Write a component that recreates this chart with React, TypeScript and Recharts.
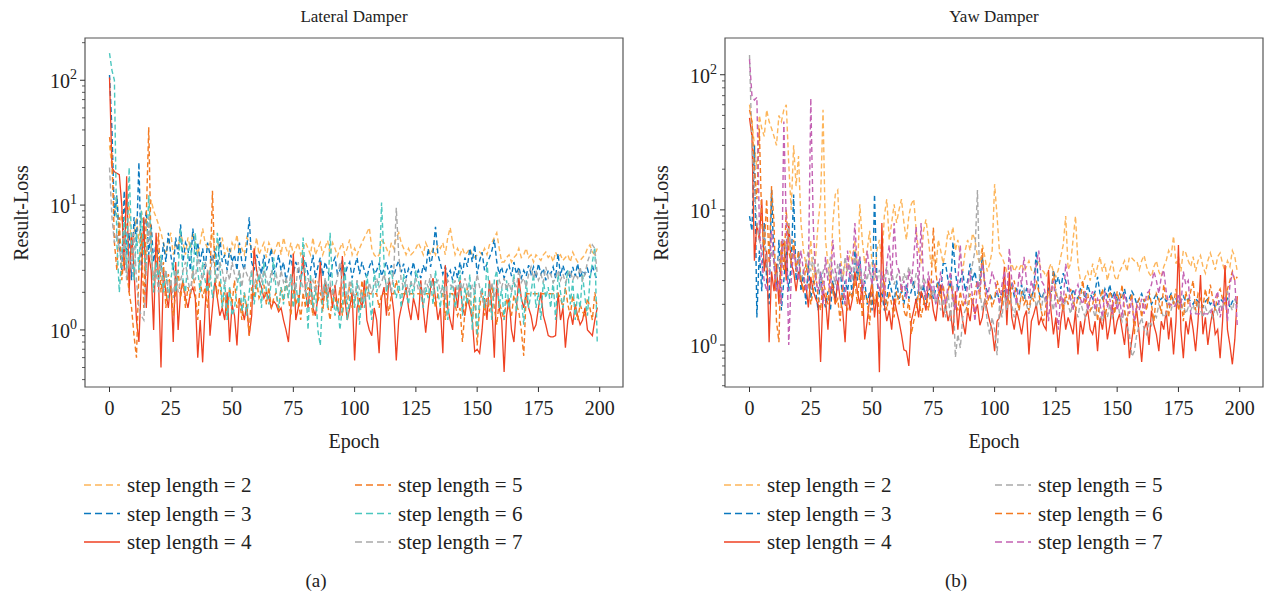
import React from 'react';
import { LineChart, Line, XAxis, YAxis, ReferenceArea } from 'recharts';

const FONT = "'Liberation Serif', 'DejaVu Serif', serif";

const epochs = Array.from({ length: 200 }, (_, i) => i);
const xTicks = [0, 25, 50, 75, 100, 125, 150, 175, 200];

// Lateral Damper
const lateralStep2 = [
  30, 20, 8, 12, 6, 9, 5, 7, 10, 4, 6, 8, 5, 9, 7, 4, 6, 11, 9, 8,
  7, 6, 5, 4, 5, 6, 4, 5, 4.5, 6, 5, 4, 5.5, 4.5, 6, 5, 4, 5, 6.5, 5,
  4.5, 5, 6, 4, 5, 4.5, 5.5, 4, 4.5, 3.8, 5, 4.5, 5.8, 4, 4.5, 4, 5.5, 5, 4.5, 4,
  5.5, 4, 4.5, 5, 3.8, 5, 4.5, 4, 4.6, 5.2, 4, 5.5, 4.5, 4, 5, 4, 4.5, 5, 4, 4.5,
  5, 4.5, 4, 5.5, 4, 4.5, 5, 4, 4.6, 5.2, 4, 5, 4.5, 3.9, 4.5, 5, 4, 4.5, 5.3, 4,
  4.5, 4, 4.5, 5, 5.5, 6, 6.6, 4.5, 4, 3.8, 4, 5.2, 5, 4.5, 4, 5, 4.5, 5.5, 6, 5,
  4.5, 4, 4.5, 4, 4.2, 4.5, 5, 4.5, 4, 5, 4.5, 4, 4.5, 4, 4.8, 4.5, 5, 4, 5.5, 6.6,
  5, 4, 4.5, 4, 4.5, 4, 4.2, 4.5, 4, 3.8, 4, 4.2, 4, 4.5, 4, 4.8, 5, 5.5, 6, 4.5,
  3.5, 3.5, 3.8, 4, 3.5, 3.8, 4, 4.5, 3.8, 4, 4.5, 3.8, 4, 3.5, 4, 3.8, 3.6, 4, 4.2, 3.8,
  4, 3.5, 4.2, 3.8, 4, 3.6, 3.8, 4, 3.5, 4.2, 3.8, 3.5, 3.6, 3.8, 4, 4.5, 4.8, 4.2, 4, 4.5,
];
const lateralStep3 = [
  110, 40, 8, 12, 5, 3, 13, 4, 6, 2.5, 8, 5, 22, 3, 6, 9, 4, 7, 3.5, 5,
  4, 3, 5, 3.5, 6, 4, 3, 5.5, 4, 7, 3.5, 5, 4.5, 3, 6.5, 4, 5, 3.5, 4.5, 3,
  5, 4, 3.5, 4.5, 3, 5.5, 3.5, 4, 3, 4.5, 3.5, 4, 3, 5, 3.5, 3, 4.5, 8, 3.5, 3,
  4, 3.5, 2.8, 4, 3, 3.5, 4.5, 2.8, 3.2, 4, 3, 3.5, 2.5, 3, 4, 2.8, 3.5, 3, 2.5, 3.2,
  3.5, 2.8, 3, 4, 2.6, 3.2, 3.8, 2.7, 3.5, 3, 2.6, 3.4, 3.8, 2.8, 3, 3.6, 2.7, 3.2, 3.5, 2.6,
  3.2, 3.8, 2.8, 3.5, 3, 2.6, 3.2, 3.6, 2.8, 3, 3.4, 2.7, 3.1, 3.5, 2.8, 3.3, 2.7, 3.2, 3.6, 2.9,
  3.4, 2.6, 3.1, 2.8, 3.5, 2.7, 3, 2.6, 3.3, 2.9, 4.5, 3.2, 4.2, 6.7, 4, 3.4, 2.8, 3.2, 2.7, 3,
  2.5, 3.2, 2.6, 3.5, 2.8, 3.8, 3.2, 4.5, 3.5, 4.8, 2.8, 3.6, 4.2, 3, 3.4, 3.8, 4.3, 5.3, 3.5, 2.8,
  3.2, 2.6, 3, 3.3, 2.7, 3.5, 2.8, 3.2, 2.6, 3, 2.7, 3.3, 2.8, 3.2, 2.6, 3.4, 2.8, 3.1, 2.5, 3,
  2.8, 3.2, 2.6, 4.1, 2.7, 3.3, 2.8, 3, 2.6, 3.2, 2.7, 3.4, 2.6, 3, 2.8, 3.1, 2.6, 3.3, 2.8, 2.5,
];
const lateralStep4 = [
  105, 20, 18.5, 18, 17.5, 10, 3, 17, 2, 6, 3, 1.2, 0.8, 2.5, 8, 1.5, 4, 3, 1, 6,
  2.5, 0.5, 3, 2, 1.5, 2.5, 0.8, 3.5, 1, 2, 2.5, 1.8, 1.5, 2, 2.2, 1.8, 0.6, 1.2, 0.55, 1.5,
  3, 0.9, 1.5, 2.5, 1.8, 1.3, 1.5, 1.2, 2, 0.8, 1.6, 1.3, 0.75, 1.8, 1.5, 1.2, 1.6, 0.9, 1.3, 4.5,
  3, 2.5, 2.2, 1.8, 2, 1.8, 1.5, 1.7, 1.6, 1.4, 1.5, 1.2, 1, 0.8, 1.5, 4.1, 1.2, 1.5, 2.5, 4,
  2, 1.5, 2.5, 1.5, 1.3, 1.8, 3.5, 1.6, 2.5, 1.8, 2.2, 1.5, 2.3, 1.5, 1.3, 3.9, 1.8, 1.2, 1.5, 2,
  0.57, 1.5, 1.8, 1.5, 2.5, 1.2, 1, 0.9, 1.5, 1.2, 0.65, 1.8, 2.2, 1.3, 2.6, 2, 1.4, 0.57, 1.2, 1.5,
  1.8, 2.2, 1.5, 1.2, 1.8, 1.5, 1.2, 2.5, 1.5, 0.95, 1.5, 2.2, 2.6, 1.8, 1.2, 1.5, 0.65, 3.3, 1.5, 1.2,
  1, 2.2, 1.5, 2.5, 1.5, 1.3, 1.8, 1.5, 1.2, 0.67, 0.7, 0.65, 1, 1.8, 1.2, 2.5, 1.5, 0.6, 2.5, 1.5,
  1.2, 0.46, 1.3, 1.8, 1, 0.8, 1.5, 2.6, 1.8, 1.5, 2, 1.5, 1.3, 1, 1.1, 1.5, 2, 1.3, 1.1, 0.9,
  0.88, 0.88, 0.9, 2, 1.2, 1.5, 0.72, 1.2, 1.4, 1.1, 1.6, 1.3, 1.1, 1.2, 1.5, 1, 0.95, 0.9, 1.2, 1.5,
];
const lateralStep5 = [
  35, 25, 5, 3, 8, 2.5, 4, 3, 2, 1.5, 0.9, 0.6, 3, 6, 1.5, 8, 42, 4, 2.5, 3,
  6, 2, 3.5, 1.5, 2.8, 2.2, 1.3, 2, 3, 1.8, 2.5, 1.5, 2.2, 1.8, 3, 2, 1.2, 2.5, 1.8, 2.2,
  1.5, 2.5, 13, 3, 1.8, 2.5, 1.5, 2, 1.3, 2.2, 1.6, 2.5, 1.5, 1.8, 1.2, 2, 1.5, 0.9, 2.2, 1.8,
  2.5, 1.8, 2, 2.3, 1.6, 2.2, 1.5, 1.8, 2, 1.4, 2.2, 1.7, 2.5, 1.8, 1.3, 2.1, 1.6, 1.9, 1.2, 2,
  1.5, 2.2, 1.8, 1.3, 2.5, 1.7, 2, 1.4, 2.2, 1.6, 1.2, 2, 1.8, 1.5, 2.2, 1.3, 1.9, 1.6, 2.4, 1.5,
  1.7, 2, 1.4, 2.5, 1.8, 2.2, 1.95, 1.95, 1.95, 1.95, 1.5, 1.95, 1.95, 1.95, 1.3, 1.95, 1.95, 2.5, 1.95, 1.95,
  1.95, 1.95, 1.95, 1.95, 1.95, 1.95, 1.95, 1.95, 1.95, 1.95, 1.95, 1.95, 1.95, 1.5, 1.95, 1.95, 1.95, 1.2, 1.95, 1.95,
  1.95, 1.6, 1.3, 1.5, 0.8, 1.4, 2.2, 1.7, 1.2, 1.9, 0.75, 1.5, 2.1, 1.3, 1.8, 1.4, 2.3, 1.5, 1.1, 1.7,
  1.4, 1.2, 1.8, 1.5, 1.3, 1.9, 1.6, 1.4, 1, 0.62, 1.95, 1.95, 1.95, 1.95, 1.95, 1.95, 1.95, 1.95, 1.95, 1.95,
  1.95, 1.95, 1.95, 1.95, 1.8, 1.5, 2.2, 1.6, 1.3, 1.9, 1.5, 1.2, 1.6, 1.4, 1.3, 1.8, 1.5, 1.2, 2, 1.5,
];
const lateralStep6 = [
  165, 120, 100, 5, 2, 4, 8, 3, 20, 5, 2.5, 6, 3, 9, 4, 3, 12, 5, 2, 3.5,
  2.5, 4, 2, 3, 1.8, 2.5, 3.5, 2, 3, 6.5, 2.5, 2, 4, 5, 2.5, 6, 3, 2, 3.5, 2.5,
  2, 3, 1.8, 2.5, 6, 3.5, 1.5, 2.5, 1.2, 2.2, 1.3, 1.5, 2.2, 3, 1.4, 2, 1.3, 2, 3, 1.6,
  2.2, 2.8, 1.5, 3.5, 2, 1.6, 2.5, 3.8, 2, 1.5, 2.2, 1.6, 2.5, 1.8, 2.8, 1.5, 2.4, 1.6, 2.2, 5.5,
  2.5, 1, 2.8, 1.5, 2.2, 1, 0.75, 2, 2.5, 1.5, 6, 2.2, 1.3, 1.7, 1, 1.5, 3.5, 1.2, 1.8, 2.5,
  1.5, 2.5, 1.1, 2, 1.5, 2.8, 1.8, 1.2, 3, 2, 2.5, 10.5, 3.5, 2, 2.5, 3, 2.2, 1.8, 2.5, 1.5,
  2.8, 2, 1.6, 2.5, 1.8, 3, 2.5, 2, 1.5, 2.2, 1.8, 2.5, 1.6, 3, 2, 1.5, 2.5, 1.8, 1.2, 2,
  2.5, 1.5, 2, 3, 1.3, 2.2, 1.6, 2.8, 1, 2.5, 0.9, 1.8, 2.2, 1.5, 3.5, 2, 1.2, 2.5, 3, 1.5,
  2.2, 1.2, 2.5, 1.5, 2, 2.8, 1.4, 2.2, 1.8, 1.1, 2.5, 1.5, 2, 2.8, 1.5, 2, 1.2, 2.5, 1.8, 2.2,
  1.5, 2.5, 1.2, 2.8, 2, 1.5, 2.2, 3, 1.6, 2.5, 1.2, 2, 1.5, 2.8, 1.8, 1.3, 2.5, 3.5, 4.6, 0.78,
];
const lateralStep7 = [
  20, 8, 5, 6, 4.5, 3.5, 5, 2.5, 4, 3, 6, 2.5, 1.5, 1.3, 1.2, 3, 8, 4, 2.5, 3,
  2, 3.5, 2.5, 3, 2, 2.5, 1.8, 3, 2, 2.5, 3, 3.5, 2.5, 2, 3, 2.5, 4, 3, 2.5, 3.5,
  3, 2.5, 4, 3, 2.5, 3.5, 3, 2.2, 3, 2.5, 3.5, 2.8, 2.5, 3, 2.2, 3.2, 2.8, 2.5, 3, 2.2,
  2.8, 3.2, 2.4, 3, 2.6, 2.2, 3, 2.5, 2.8, 2.2, 3, 2.4, 2.6, 2.2, 2.8, 2.4, 2.1, 3.5, 2.5, 2.2,
  2, 2.6, 2.2, 2.5, 2, 2.4, 2.2, 1.8, 2.6, 2.1, 2.4, 1.9, 2.2, 2.6, 3.5, 2.2, 2, 1.8, 2.5, 2.2,
  1.8, 2.5, 2.1, 1.7, 1.8, 1.8, 2.4, 2, 2.2, 2.6, 2.2, 2.4, 2.8, 2.2, 2.5, 2, 3, 9.5, 4, 2.5,
  2.2, 2.5, 2, 2.4, 2.2, 2.6, 2.1, 2.3, 1.9, 2.5, 2.2, 2.8, 2.1, 2.4, 2.5, 2, 2.2, 1.8, 2.5, 2.3,
  2.2, 2.5, 1.9, 2.4, 2.1, 2.6, 2.2, 1.8, 2.3, 2, 2.8, 2.2, 1.8, 1.6, 1.6, 2, 2.4, 1.8, 2.2, 2.5,
  2.2, 2.6, 2.1, 2.4, 2, 2.5, 2.2, 3, 2.4, 2.6, 2.2, 2.8, 3.2, 2.6, 3, 2.5, 2.8, 2.4, 3.2, 2.6,
  2.8, 2.4, 2.6, 3, 2.5, 2.8, 2.4, 2.7, 3, 2.5, 2.8, 2.6, 3.2, 2.5, 2.8, 3.5, 4, 4.8, 4.5, 2.8,
];

// Yaw Damper
const yawStep2 = [
  60, 45, 30, 20, 50, 40, 35, 55, 45, 40, 35, 30, 50, 45, 55, 60, 22, 10, 30, 15,
  25, 8, 5, 4, 3.5, 6, 3, 4.5, 8, 12, 55, 6, 4, 3, 8, 13, 14, 5, 3, 4,
  3.5, 5, 4, 6, 3, 11, 6, 4, 5, 7, 4, 3, 5, 6, 4, 9, 12, 6, 8, 11,
  8, 10, 12, 8, 6, 9, 11, 12, 7, 5, 4, 7, 8.5, 6, 4, 4.5, 3.5, 6, 5, 4,
  5, 7, 6, 7.5, 5, 6, 4.5, 3.5, 5, 6, 5, 6.7, 6, 4.5, 4, 5.5, 4.5, 3.5, 4, 5,
  15.5, 9, 4.8, 4.5, 4, 3.5, 3.6, 4, 3.5, 3.8, 3.6, 4, 3.5, 3.8, 4.2, 3.6, 3.4, 3.8, 4.2, 3.6,
  3.5, 3.2, 3.6, 4, 3.5, 3.2, 3.6, 4.5, 5.5, 9, 3.6, 4, 6, 9, 4, 3, 2.8, 3.2, 3.5, 3,
  4, 3.2, 3.8, 4.5, 3.5, 4, 3, 3.6, 4.2, 3.2, 3, 3.5, 3.8, 4.2, 3.5, 4.5, 4.4, 4.2, 4.2, 3.6,
  4.2, 4.6, 3.8, 3.4, 3.2, 3.8, 4.2, 3.5, 3.2, 3.8, 4.2, 5, 4.5, 6.4, 4, 4.5, 3.5, 5, 4.8, 4.2,
  3.8, 4.5, 3.5, 4.2, 4.6, 3.8, 3.4, 4.2, 4.8, 4.2, 3.6, 4.5, 4.8, 4, 3.5, 4.2, 3.8, 5, 4.5, 3.5,
];
const yawStep3 = [
  9, 7, 30, 1.6, 5, 2.5, 8, 3, 2, 14, 4, 2.5, 6, 1.8, 3, 5, 2.5, 4, 13, 3,
  5, 2.5, 3.5, 2, 4, 2.2, 3, 2.5, 1.8, 3.5, 2.2, 1.9, 2.5, 1.8, 3, 2.2, 2.8, 4, 2, 3,
  2.5, 3.5, 2.2, 5, 3, 4.5, 2.5, 3, 2, 2.5, 1.8, 13, 3, 2.2, 2.5, 1.8, 2.2, 3, 2.5, 2,
  3, 2.2, 2.5, 2, 2.8, 2.2, 2.5, 3, 2, 2.6, 2.2, 2.8, 2, 2.4, 2.8, 2.2, 2.6, 3, 2.4, 4,
  4, 3, 2.6, 5.8, 3.5, 2.5, 3, 3.5, 2.5, 3, 4, 3, 3.5, 2.6, 3, 4.5, 2.8, 2.5, 2.4, 2.2,
  2.2, 2.5, 2.1, 2.4, 2.6, 2.2, 2.5, 2.8, 2.3, 2.6, 2.4, 2.8, 2.2, 2.6, 2.4, 2.2, 2.6, 5, 2.5, 2.2,
  2.4, 2.2, 2.6, 2.3, 3.6, 2.8, 3.2, 2.6, 3.4, 3, 2.5, 2.2, 2.6, 2.3, 2.2, 2.6, 2.5, 2.2, 2.8, 2.4,
  2.2, 2.5, 3.2, 2.4, 2.2, 2.6, 2.3, 2.8, 2.2, 2.5, 2.1, 2.4, 2.2, 2.6, 2.1, 2.2, 2.5, 2.3, 2, 2.2,
  2.4, 2.1, 2.2, 2.3, 2, 2.2, 2.4, 2.1, 2.2, 2.3, 2.1, 2.2, 2.4, 2.1, 2.2, 2, 2.1, 2.3, 2.1, 2.2,
  2.1, 2, 2.2, 2.1, 2, 1.9, 2.1, 2.2, 2, 2.1, 1.9, 2, 2.2, 2.1, 2, 2.2, 1.9, 2.1, 2.2, 2,
];
const yawStep4 = [
  48, 35, 4.2, 8, 6, 12, 3.5, 5, 1.05, 3.5, 2.5, 4, 2, 5, 6, 3, 8, 4, 3.5, 2.5,
  3.5, 3, 2.5, 2.8, 1.9, 3.2, 2.5, 2.2, 2, 0.75, 2.5, 2.2, 1.3, 2.5, 2.8, 2, 3, 2.2, 1.8, 1.05,
  2.5, 1.8, 2.2, 3.5, 2.5, 2, 2.8, 1.1, 1.5, 2.2, 3, 1.6, 2.5, 0.63, 8, 2, 1.5, 1.8, 1.3, 2.2,
  1.8, 1.5, 1.2, 0.92, 0.9, 0.7, 1.5, 1.8, 2.2, 1.6, 2.5, 2.2, 1.8, 3, 2.5, 1.8, 1.5, 2.2, 2.8, 1.6,
  2, 1.5, 1.8, 1.2, 2.5, 1.3, 2, 1.5, 1.2, 1.8, 1.5, 2.2, 1.7, 2, 1.4, 1.6, 2.2, 1.8, 1.5, 1.3,
  0.9, 1.5, 1.6, 2, 3.8, 1.4, 3.5, 1.6, 1.3, 1.8, 1.5, 1.2, 1.6, 1.8, 0.85, 1.5, 1.7, 2, 1.4, 1.6,
  1.4, 1.3, 3.6, 1.8, 1.2, 1.6, 0.95, 1.5, 2, 1.3, 1.6, 1.4, 1.2, 1.8, 0.85, 1.5, 1.2, 1.6, 1.8, 1.3,
  1.2, 1.5, 0.9, 1.6, 1.3, 1.8, 1.1, 1.4, 2, 1.2, 1.5, 1.7, 1.3, 1, 1.6, 0.8, 1.1, 1.5, 1.8, 1.2,
  0.75, 1.3, 1.5, 1, 1.8, 1.4, 1.2, 0.9, 1.5, 1.3, 1.8, 1.1, 1.6, 0.85, 1.5, 5.5, 1.3, 0.8, 1.5, 1.2,
  1.7, 1.3, 0.9, 1.5, 3.3, 1.2, 1.6, 1, 1.4, 1.8, 1.2, 1.3, 0.8, 1.5, 3.9, 1.3, 1, 0.72, 1.1, 2.3,
];
const yawStep5 = [
  140, 30, 15, 8, 6, 5, 7, 4, 3.5, 5, 4, 3, 4.5, 3.5, 6, 5, 8, 4, 5.5, 3.5,
  4.5, 3, 3.5, 4, 5, 3.5, 4.5, 3, 4, 2.5, 3.5, 4, 3, 4.5, 3.5, 2.8, 4, 3.5, 3, 4.5,
  3.5, 4, 3, 4.5, 3.2, 3.8, 2.8, 3.5, 3, 4, 2.8, 3.4, 3, 3.6, 2.6, 3.2, 3.8, 3, 3.5, 2.8,
  3.2, 3.6, 2.7, 3.4, 3, 3.8, 3.2, 2.6, 3.4, 3, 2.5, 3.2, 2.8, 2.5, 2.2, 2.6, 2, 2.4, 1.8, 2.2,
  1.6, 2.5, 1.5, 2.8, 0.81, 1.2, 0.95, 1.6, 1.8, 2, 3, 4, 5, 14, 2.5, 1.8, 2.2, 1.5, 1.2, 1.6,
  1.3, 0.84, 2, 1.6, 2.4, 1.8, 2.5, 2, 1.6, 2.2, 1.8, 2.4, 2.6, 2, 1.7, 2.2, 2.6, 1.9, 2.2, 1.8,
  2.4, 1.9, 2.5, 2.2, 1.8, 2.6, 2.1, 2.4, 1.8, 2.2, 2, 1.7, 2.1, 1.9, 1.6, 2.1, 1.8, 1.6, 2, 1.8,
  1.9, 1.6, 2, 1.7, 1.5, 1.8, 1.6, 2, 1.6, 1.8, 2.2, 1.7, 1.5, 1.8, 1.4, 1.2, 0.82, 0.9, 1.2, 1.4,
  1.6, 1.3, 1.2, 1.5, 1.4, 1.7, 1.6, 2, 1.8, 1.6, 1.7, 2.1, 1.8, 2.2, 1.9, 2.1, 1.8, 2, 1.7, 1.9,
  1.8, 2, 1.7, 2.1, 1.8, 1.6, 1.9, 1.7, 1.8, 1.6, 1.9, 1.7, 2, 1.8, 2.2, 2.5, 2, 1.8, 2.2, 1.9,
];
const yawStep6 = [
  55, 45, 20, 12, 40, 8, 5, 12, 4, 15, 8, 1.5, 1.05, 6, 3.5, 10, 5, 4, 6, 3.5,
  5, 3, 2.5, 4, 3, 2, 2.5, 3.5, 2.2, 1.8, 3, 2.5, 2, 3.5, 2.5, 2, 2.2, 1.5, 2.8, 2,
  1.8, 2.5, 2.2, 3, 2, 3.5, 1.6, 2.5, 2.2, 1.4, 2.8, 2, 2.5, 1.7, 2.2, 3, 1.8, 2.5, 2, 1.6,
  2.5, 2, 2.8, 1.8, 1.6, 2.2, 1.2, 1.5, 1.8, 2.5, 1.6, 2, 2.4, 1.8, 2.5, 7.4, 3.5, 2.5, 2.2, 2.8,
  2, 2.5, 3, 2.2, 2.2, 1.8, 2.5, 1.9, 2.2, 1.7, 2.4, 2, 2.5, 3, 2.2, 5.2, 2.5, 2, 2.4, 1.9,
  2.2, 3, 2.5, 2, 2.8, 2.4, 2, 2.6, 3, 2.2, 1.8, 2.5, 2, 2.2, 1.8, 2.4, 2.1, 3, 2.5, 1.8,
  1.5, 2, 2.5, 2.2, 3.5, 2.4, 2, 2.2, 1.8, 2.4, 2, 2.6, 2.2, 1.8, 2.3, 2.2, 3, 2, 2.4, 1.8,
  2, 2.4, 1.5, 2.2, 2.6, 1.6, 2, 2.5, 2.2, 1.7, 2.5, 2, 2.8, 1.8, 1.5, 2, 2.4, 1.2, 2, 2.2,
  1.6, 2.2, 1.8, 2.5, 2, 1.5, 2.4, 2.2, 1.7, 2.8, 2.2, 1.6, 2.4, 2, 2.6, 1.8, 2.2, 1.5, 2.5, 2,
  2.5, 3, 1.8, 2.4, 2.2, 1.9, 2.6, 2, 2.8, 2.2, 1.8, 2.4, 2.6, 2.2, 2, 2.6, 3, 3.5, 3, 3.2,
];
const yawStep7 = [
  130, 70, 65, 68, 8, 4, 3, 2.5, 3, 7, 4, 2.5, 3, 2, 45, 8, 1, 3, 5, 4,
  3, 5, 3.5, 2.5, 3, 67, 8, 3, 2.5, 3.5, 2, 4.5, 3, 2.5, 6, 3.5, 2.5, 4, 3, 2,
  5, 3, 4, 8, 3.5, 4.5, 2.5, 3, 5, 3.5, 2.8, 4, 3, 2.5, 3.5, 2.2, 4, 5.5, 3, 8,
  4, 3.5, 2.5, 3, 2.2, 3.5, 2.8, 4.5, 7.5, 2.5, 8, 3, 2.2, 3.5, 2.5, 3, 2, 2.5, 3.5, 2.5,
  2, 2.8, 3.5, 2.2, 1.8, 3, 5.5, 2.5, 2, 2.8, 3.5, 2.2, 1.5, 3, 2.5, 4, 3, 2.2, 2.8, 3.5,
  3, 2.5, 2, 2.8, 3.5, 2.2, 5.2, 3, 2.5, 2, 3.5, 2.8, 4.5, 3, 2.2, 3, 2.5, 4, 5, 3,
  2.8, 2.2, 1.5, 2.5, 3, 2, 1.3, 2.5, 2, 4, 3, 2.2, 1.8, 2.5, 2.8, 2.2, 2, 2.5, 1.8, 2.2,
  2.5, 1.8, 2.2, 2, 1.6, 2.5, 1.9, 2.2, 1.7, 2.4, 1.8, 2.2, 1.6, 2.4, 2, 1.7, 2.2, 1.5, 2, 1.8,
  2.2, 1.7, 2.4, 2.5, 2.8, 3.5, 3, 2.4, 3.2, 3.6, 2.5, 2, 2, 1.9, 2, 2.4, 1.9, 3.5, 2.8, 3,
  1.7, 1.7, 1.7, 1.7, 1.7, 1.7, 1.7, 1.7, 1.7, 1.9, 2.2, 2.5, 1.6, 2, 2.3, 1.5, 2.8, 3.4, 3, 1.4,
];

type Series = { key: string; name: string; color: string; dash?: string; values: number[] };

const lateralSeries: Series[] = [
  { key: 'step2', name: 'step length = 2', color: '#FDB55A', dash: '5 3', values: lateralStep2 },
  { key: 'step3', name: 'step length = 3', color: '#0A78BE', dash: '5 3', values: lateralStep3 },
  { key: 'step4', name: 'step length = 4', color: '#EF4122', values: lateralStep4 },
  { key: 'step5', name: 'step length = 5', color: '#F47A20', dash: '5 3', values: lateralStep5 },
  { key: 'step6', name: 'step length = 6', color: '#4CC7BF', dash: '5 3', values: lateralStep6 },
  { key: 'step7', name: 'step length = 7', color: '#A9A9A9', dash: '5 3', values: lateralStep7 },
];

const yawSeries: Series[] = [
  { key: 'step2', name: 'step length = 2', color: '#FDB55A', dash: '5 3', values: yawStep2 },
  { key: 'step3', name: 'step length = 3', color: '#0A78BE', dash: '5 3', values: yawStep3 },
  { key: 'step4', name: 'step length = 4', color: '#EF4122', values: yawStep4 },
  { key: 'step5', name: 'step length = 5', color: '#A9A9A9', dash: '5 3', values: yawStep5 },
  { key: 'step6', name: 'step length = 6', color: '#F47A20', dash: '5 3', values: yawStep6 },
  { key: 'step7', name: 'step length = 7', color: '#C462B3', dash: '5 3', values: yawStep7 },
];

const buildRows = (series: Series[]) =>
  epochs.map((epoch, i) => {
    const row: Record<string, number> = { epoch };
    series.forEach(s => { row[s.key] = s.values[i]; });
    return row;
  });

const logTicks = (min: number, max: number) => {
  const out: number[] = [];
  for (let e = -1; e <= 2; e++) {
    for (let m = 1; m <= 9; m++) {
      const v = m * Math.pow(10, e);
      if (v >= min && v <= max) out.push(v);
    }
  }
  return out;
};

const LogTick = (props: any) => {
  const { x, y, payload } = props;
  const lg = Math.log10(payload.value);
  const exp = Math.round(lg);
  const major = Math.abs(lg - exp) < 1e-6;
  return (
    <g>
      <line x1={x} x2={x - (major ? 5 : 3)} y1={y} y2={y} stroke="#333" strokeWidth={major ? 1 : 0.8} />
      {major && (
        <text x={x - 8} y={y + 8} textAnchor="end" fontSize={20} fill="#222" style={{ fontFamily: FONT }}>
          10<tspan dy={-9} fontSize={14}>{exp}</tspan>
        </text>
      )}
    </g>
  );
};

const EpochTick = (props: any) => {
  const { x, y, payload } = props;
  return (
    <g>
      <line x1={x} x2={x} y1={y} y2={y + 5} stroke="#333" />
      <text x={x} y={y + 28} textAnchor="middle" fontSize={20} fill="#222" style={{ fontFamily: FONT }}>
        {payload.value}
      </text>
    </g>
  );
};

type PanelProps = {
  left: number;
  width: number;
  marginRight: number;
  title: string;
  caption: string;
  series: Series[];
  yDomain: [number, number];
};

const Panel = ({ left, width, marginRight, title, caption, series, yDomain }: PanelProps) => {
  const data = buildRows(series);
  const plotLeft = 85;
  const plotRight = width - marginRight;
  const midX = (plotLeft + plotRight) / 2;
  const col1 = series.slice(0, 3);
  const col2 = series.slice(3);
  const rowsY = [485, 513.5, 542];
  const textStyle = { fontFamily: FONT };
  const legendItem = (s: Series, lineX: number, y: number) => (
    <g key={s.key}>
      <line x1={lineX} x2={lineX + 36} y1={y} y2={y} stroke={s.color} strokeWidth={1.5} strokeDasharray={s.dash ? '7 4' : undefined} />
      <text x={lineX + 43} y={y} dominantBaseline="central" fontSize={21} fill="#222" style={textStyle}>{s.name}</text>
    </g>
  );
  return (
    <div style={{ position: 'absolute', left, top: 0, width, height: 596 }}>
      <LineChart width={width} height={460} data={data} margin={{ top: 38, right: marginRight, left: 0, bottom: 0 }}>
        <XAxis
          dataKey="epoch"
          type="number"
          domain={[-10, 209.5]}
          ticks={xTicks}
          allowDataOverflow
          height={73}
          axisLine={false}
          tickLine={false}
          tickSize={0}
          tickMargin={0}
          tick={<EpochTick />}
          interval={0}
        />
        <YAxis
          type="number"
          scale="log"
          domain={yDomain}
          allowDataOverflow
          ticks={logTicks(yDomain[0], yDomain[1])}
          width={85}
          axisLine={false}
          tickLine={false}
          tickSize={0}
          tickMargin={0}
          tick={<LogTick />}
          interval={0}
        />
        <ReferenceArea x1={-10} x2={209.5} y1={yDomain[0]} y2={yDomain[1]} fill="none" stroke="#555" strokeWidth={1.2} ifOverflow="visible" />
        {series.map(s => (
          <Line
            key={s.key}
            type="linear"
            dataKey={s.key}
            stroke={s.color}
            strokeWidth={s.dash ? 1.4 : 1.3}
            strokeDasharray={s.dash}
            dot={false}
            isAnimationActive={false}
          />
        ))}
      </LineChart>
      <svg width={width} height={596} style={{ position: 'absolute', left: 0, top: 0, pointerEvents: 'none' }}>
        <text x={midX} y={16} textAnchor="middle" dominantBaseline="central" fontSize={17} fill="#222" style={textStyle}>{title}</text>
        <text x={midX} y={441} textAnchor="middle" dominantBaseline="central" fontSize={20} fill="#222" style={textStyle}>Epoch</text>
        <text x={20.5} y={213} textAnchor="middle" dominantBaseline="central" fontSize={20} fill="#222" style={textStyle} transform="rotate(-90 20.5 213)">Result-Loss</text>
        {col1.map((s, i) => legendItem(s, 84, rowsY[i]))}
        {col2.map((s, i) => legendItem(s, 355, rowsY[i]))}
        <text x={316} y={580} textAnchor="middle" dominantBaseline="central" fontSize={19} fill="#222" style={textStyle}>{caption}</text>
      </svg>
    </div>
  );
};

export default function App() {
  return (
    <div style={{ position: 'absolute', left: 0, top: 0, width: 1269, height: 596, background: '#fff', overflow: 'hidden' }}>
      <Panel left={0} width={640} marginRight={17} title="Lateral Damper" caption="(a)" series={lateralSeries} yDomain={[0.349, 218]} />
      <Panel left={640} width={629} marginRight={6} title="Yaw Damper" caption="(b)" series={yawSeries} yDomain={[0.489, 187]} />
    </div>
  );
}
